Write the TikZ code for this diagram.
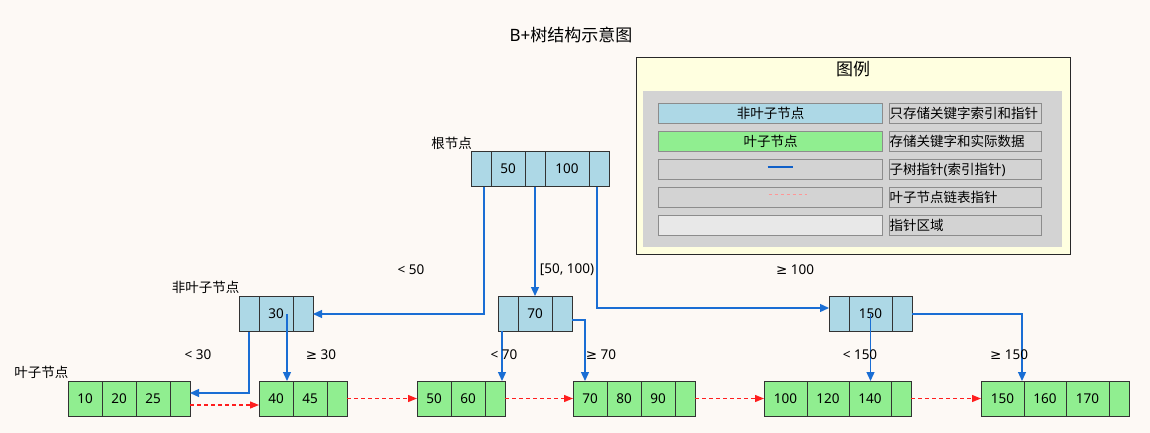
\documentclass[tikz,border=0pt]{standalone}
\usepackage{fontspec}
\setmainfont{Noto Sans}
\newfontfamily\cjk{Noto Sans CJK SC}
\newfontfamily\symf{DejaVu Sans}
\newcommand\geqsym{{\symf ≥}}
\usetikzlibrary{arrows.meta,calc}
\definecolor{bgc}{RGB}{253,249,245}
\definecolor{nlblue}{RGB}{173,216,230}
\definecolor{lfgreen}{RGB}{144,238,144}
\definecolor{nodeborder}{RGB}{51,51,51}
\definecolor{treeblue}{RGB}{26,110,212}
\definecolor{linkred}{RGB}{255,30,30}
\definecolor{legyellow}{RGB}{255,255,224}
\definecolor{legborder}{RGB}{40,40,40}
\definecolor{panelgray}{RGB}{211,211,211}
\definecolor{rowborder}{RGB}{140,140,140}
\definecolor{ptrgray}{RGB}{232,232,232}
\definecolor{legblue}{RGB}{16,96,200}
\definecolor{legpink}{RGB}{255,150,150}
\begin{document}
\begin{tikzpicture}[x=1pt,y=-1pt,
  txt/.style={font=\fontsize{13.5}{16}\selectfont, inner sep=0pt},
  cellbase/.style={draw=nodeborder, line width=1pt, minimum height=35pt, inner sep=0pt, outer sep=0pt, anchor=north west, txt},
  nl/.style={cellbase, fill=nlblue},
  lf/.style={cellbase, fill=lfgreen},
  w20/.style={minimum width=20pt},
  w34/.style={minimum width=34pt},
  w42/.style={minimum width=42pt},
  w43/.style={minimum width=43pt},
  w44/.style={minimum width=44pt},
  tree/.style={draw=treeblue, line width=1.3pt, -{Triangle[length=9pt,width=8pt]}},
  link/.style={draw=linkred, line width=1.2pt, dash pattern=on 4pt off 3pt, -{Triangle[length=9pt,width=7pt]}},
  lbl/.style={txt},
  rowl/.style={draw=rowborder, line width=1pt, minimum width=224pt, minimum height=20pt, anchor=north west, inner sep=0pt, txt},
  rowr/.style={draw=rowborder, fill=panelgray, line width=1pt, minimum height=20pt, text width=152pt, inner xsep=3pt, inner ysep=0pt, align=left, anchor=north west, txt},
]
\useasboundingbox (0,0) rectangle (1150,433);
\fill[bgc] (0,0) rectangle (1150,433);

% title
\node[font=\fontsize{17}{20}\selectfont, inner sep=0pt] (title) at (571,34.5) {B+{\cjk 树结构示意图}};

% root
\node[nl,w20] (r0) at (471,151.5) {};
\node[nl,w34] (r1) at (r0.north east) {50};
\node[nl,w20] (r2) at (r1.north east) {};
\node[nl,w44] (r3) at (r2.north east) {100};
\node[nl,w20] (r4) at (r3.north east) {};
\node[lbl, anchor=east] (rootlbl) at (472,143) {\cjk 根节点};

% internal 30
\node[nl,w20] (a0) at (239,296.5) {};
\node[nl,w34] (a1) at (a0.north east) {30};
\node[nl,w20] (a2) at (a1.north east) {};
\node[lbl, anchor=east] (nllbl) at (239.5,287) {\cjk 非叶子节点};

% internal 70
\node[nl,w20] (b0) at (498,296) {};
\node[nl,w34] (b1) at (b0.north east) {70};
\node[nl,w20] (b2) at (b1.north east) {};

% internal 150
\node[nl,w20] (c0) at (829,296) {};
\node[nl,w43] (c1) at (c0.north east) {150};
\node[nl,w20] (c2) at (c1.north east) {};

% leaves
\node[lf,w34] (l11) at (68,381) {10};
\node[lf,w34] (l12) at (l11.north east) {20};
\node[lf,w34] (l13) at (l12.north east) {25};
\node[lf,w20] (l14) at (l13.north east) {};
\node[lbl, anchor=east] (lflbl) at (68.5,372) {\cjk 叶子节点};

\node[lf,w34] (l21) at (259,381) {40};
\node[lf,w34] (l22) at (l21.north east) {45};
\node[lf,w20] (l23) at (l22.north east) {};

\node[lf,w34] (l31) at (417,381) {50};
\node[lf,w34] (l32) at (l31.north east) {60};
\node[lf,w20] (l33) at (l32.north east) {};

\node[lf,w34] (l41) at (573,381) {70};
\node[lf,w34] (l42) at (l41.north east) {80};
\node[lf,w34] (l43) at (l42.north east) {90};
\node[lf,w20] (l44) at (l43.north east) {};

\node[lf,w43] (l51) at (764,381) {100};
\node[lf,w42] (l52) at (l51.north east) {120};
\node[lf,w42] (l53) at (l52.north east) {140};
\node[lf,w20] (l54) at (l53.north east) {};

\node[lf,w43] (l61) at (981,381) {150};
\node[lf,w42] (l62) at (l61.north east) {160};
\node[lf,w43] (l63) at (l62.north east) {170};
\node[lf,w20] (l64) at (l63.north east) {};

% tree pointers
\draw[tree] ([xshift=3pt]r0.south) |- (a2.east);
\draw[tree] (r2.south) -- (b1.north);
\draw[tree] ([xshift=-2pt]r4.south) |- ([yshift=5.5pt]c0.west);
\draw[tree] (a0.south) |- ([yshift=5.5pt]l14.east);
\coordinate (s30) at ([xshift=11pt]a1.center);
\draw[tree] (s30) -- (s30 |- l21.north);
\coordinate (s70) at ([xshift=-6pt]b0.south);
\draw[tree] (s70) -- (s70 |- l33.north);
\draw[tree] ([yshift=-6.5pt]b2.east) -| ([xshift=-5pt]l41.north);
\draw[tree] (c1.center) -- (c1.center |- l53.north);
\draw[tree] ([yshift=-0.5pt]c2.east) -| ([xshift=19.5pt]l61.north);

% leaf links
\draw[link] ([yshift=-6.5pt]l14.east) -- ([yshift=-6.5pt]l21.west);
\draw[link] (l23.east) -- (l31.west);
\draw[link] (l33.east) -- (l41.west);
\draw[link] (l44.east) -- (l51.west);
\draw[link] (l54.east) -- (l61.west);

% edge labels
\node[lbl] (e50) at (411,269.5) {< 50};
\node[lbl] (e50100) at (567,270) {[50, 100)};
\node[lbl] (e100) at (795,270) {\geqsym\ 100};
\node[lbl] (e30a) at (198,355) {< 30};
\node[lbl] (e30b) at (321,355) {\geqsym\ 30};
\node[lbl] (e70a) at (504,355) {< 70};
\node[lbl] (e70b) at (601,355) {\geqsym\ 70};
\node[lbl] (e150a) at (860,355) {< 150};
\node[lbl] (e150b) at (1009,355) {\geqsym\ 150};

% legend
\node[draw=legborder, fill=legyellow, line width=1pt, minimum width=434pt, minimum height=197pt, anchor=north west, inner sep=0pt] (leg) at (636,57) {};
\node[font=\fontsize{17}{20}\selectfont\cjk, inner sep=0pt] (legtitle) at (853,69) {图例};
\node[fill=panelgray, minimum width=419pt, minimum height=156pt, anchor=north west, inner sep=0pt] (panel) at (643,91) {};

\node[rowl, fill=nlblue] (k1) at (658,103) {\cjk 非叶子节点};
\node[rowr] (d1) at (889,103) {\cjk 只存储关键字索引和指针};
\node[rowl, fill=lfgreen] (k2) at (658,131) {\cjk 叶子节点};
\node[rowr] (d2) at (889,131) {\cjk 存储关键字和实际数据};
\node[rowl, fill=panelgray] (k3) at (658,159) {};
\node[rowr] (d3) at (889,159) {{\cjk 子树指针}({\cjk 索引指针})};
\node[rowl, fill=panelgray] (k4) at (658,187) {};
\node[rowr] (d4) at (889,187) {\cjk 叶子节点链表指针};
\node[rowl, fill=ptrgray] (k5) at (658,215) {};
\node[rowr] (d5) at (889,215) {\cjk 指针区域};

\draw[legblue, line width=2pt] ([xshift=-3pt,yshift=3pt]k3.center) -- ([xshift=22pt,yshift=3pt]k3.center);
\draw[legpink, line width=1pt, dash pattern=on 3pt off 3pt] ([xshift=-2pt,yshift=2.7pt]k4.center) -- ([xshift=36pt,yshift=2.7pt]k4.center);
\end{tikzpicture}
\end{document}
